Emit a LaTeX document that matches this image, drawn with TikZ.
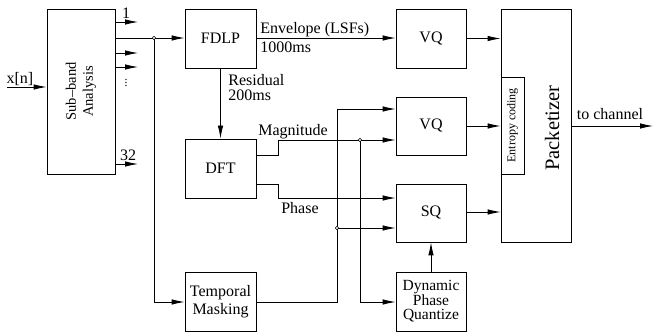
\documentclass[tikz,border=0pt]{standalone}
\usepackage{fontspec}
\setmainfont{Liberation Serif}
\usetikzlibrary{arrows.meta}
\begin{document}
\begin{tikzpicture}[x=1pt,y=-1pt,
  line width=0.8pt,
  blk/.style={draw, rectangle, inner sep=0pt, align=center, font=\fontsize{16}{18}\selectfont},
  lbl/.style={inner sep=0pt, font=\fontsize{16}{18}\selectfont},
  arr/.style={-{Latex[length=13pt,width=5.5pt]}},
  jdot/.style={circle, draw, fill=white, inner sep=0pt, minimum size=3.5pt, line width=0.6pt}]
\useasboundingbox (0,0) rectangle (654,336);
% blocks
\node[blk, minimum width=68pt, minimum height=165pt] (sub) at (81,91.5) {};
\node[rotate=90, align=center, font=\fontsize{14.5}{17}\selectfont, inner sep=0pt] (subt) at (81,91.5) {Sub–band\\Analysis};
\node[blk, minimum width=71pt, minimum height=59pt] (fdlp) at (220.5,38.5) {FDLP};
\node[blk, minimum width=71pt, minimum height=59pt] (dft) at (220.5,168.5) {DFT};
\node[blk, minimum width=71pt, minimum height=59pt, font=\fontsize{16}{18.5}\selectfont] (tm) at (220.5,301.5) {Temporal\\Masking};
\node[blk, minimum width=70pt, minimum height=59pt] (vq1) at (431,38.5) {VQ};
\node[blk, minimum width=70pt, minimum height=58pt] (vq2) at (431,126) {VQ};
\node[blk, minimum width=70pt, minimum height=58pt] (sq) at (431,213) {SQ};
\node[blk, minimum width=70pt, minimum height=59pt, font=\fontsize{15.5}{14}\selectfont] (dpq) at (431,301.5) {Dynamic\\Phase\\Quantize};
\node[blk, minimum width=70pt, minimum height=233pt] (pack) at (536,125.5) {};
\node[blk, minimum width=23pt, minimum height=97pt] (ent) at (512.5,125.5) {};
\node[rotate=90, inner sep=0pt, font=\fontsize{12}{14}\selectfont] (entt) at (512.5,125.5) {Entropy coding};
\node[rotate=90, inner sep=0pt, font=\fontsize{20.5}{24}\selectfont] (packt) at (552,128) {Packetizer};
% input
\coordinate (xin) at (7,87);
\draw[arr] (xin) -- (sub.west |- xin);
\node[lbl] (xl) at (20,79) {x[n]};
% sub-band outputs
\coordinate (o1) at (138,22);
\coordinate (o3) at (138,53);
\coordinate (o4) at (138,67);
\coordinate (o32) at (138,164);
\draw[arr] (sub.east |- o1) -- (o1);
\draw[arr] (sub.east |- o3) -- (o3);
\draw[arr] (sub.east |- o4) -- (o4);
\draw[arr] (sub.east |- o32) -- (o32);
\node[lbl] (l1) at (126,13) {1};
\node[lbl] (l32) at (128,155) {32};
\node[rotate=90, inner sep=0pt, font=\fontsize{12}{14}\selectfont] (vd) at (126,83) {...};
% to FDLP and TM
\coordinate (j1) at (154,38);
\coordinate (j1b) at (154,302);
\draw (sub.east |- j1) -- (j1);
\draw[arr] (j1) -- (fdlp.west |- j1);
\draw[arr] (j1) -- (j1b) -- (tm.west |- j1b);
\node[jdot] (d1) at (j1) {};
% FDLP -> VQ1
\draw[arr] (fdlp.east |- 0,38) -- (vq1.west |- 0,38);
\node[lbl, anchor=west] (env) at (260,30) {Envelope (LSFs)};
\node[lbl, anchor=west] (ms1) at (260,47.5) {1000ms};
% residual
\draw[arr] (fdlp.south) -- (dft.north);
\node[lbl, anchor=west] (res) at (228,80) {Residual};
\node[lbl, anchor=west] (ms2) at (228,95.5) {200ms};
% magnitude
\coordinate (m1) at (278,155);
\coordinate (m2) at (278,140);
\coordinate (j2) at (360,140);
\coordinate (j2b) at (360,302);
\draw[arr] (dft.east |- m1) -- (m1) -- (m2) -- (vq2.west |- m2);
\draw[arr] (j2) -- (j2b) -- (dpq.west |- j2b);
\node[lbl] (mag) at (293,132) {Magnitude};
% phase
\coordinate (p1) at (278,184);
\coordinate (p2) at (278,198);
\draw[arr] (dft.east |- p1) -- (p1) -- (p2) -- (sq.west |- p2);
\node[lbl] (ph) at (300,208) {Phase};
% temporal masking
\coordinate (t1) at (337,302);
\coordinate (t2) at (337,109);
\coordinate (j3) at (337,228);
\draw[arr] (tm.east |- t1) -- (t1) -- (t2) -- (vq2.west |- t2);
\draw[arr] (j3) -- (sq.west |- j3);
\node[jdot] (d2) at (j2) {};
\node[jdot] (d3) at (j3) {};
% DPQ -> SQ
\draw[arr] (dpq.north) -- (sq.south);
% to packetizer
\draw[arr] (vq1.east) -- (pack.west |- vq1.east);
\draw[arr] (vq2.east) -- (pack.west |- vq2.east);
\draw[arr] (sq.east |- 0,212) -- (pack.west |- 0,212);
% to channel
\coordinate (out) at (653,126);
\draw[arr] (pack.east |- out) -- (out);
\node[lbl] (tc) at (610,114) {to channel};
\end{tikzpicture}
\end{document}
